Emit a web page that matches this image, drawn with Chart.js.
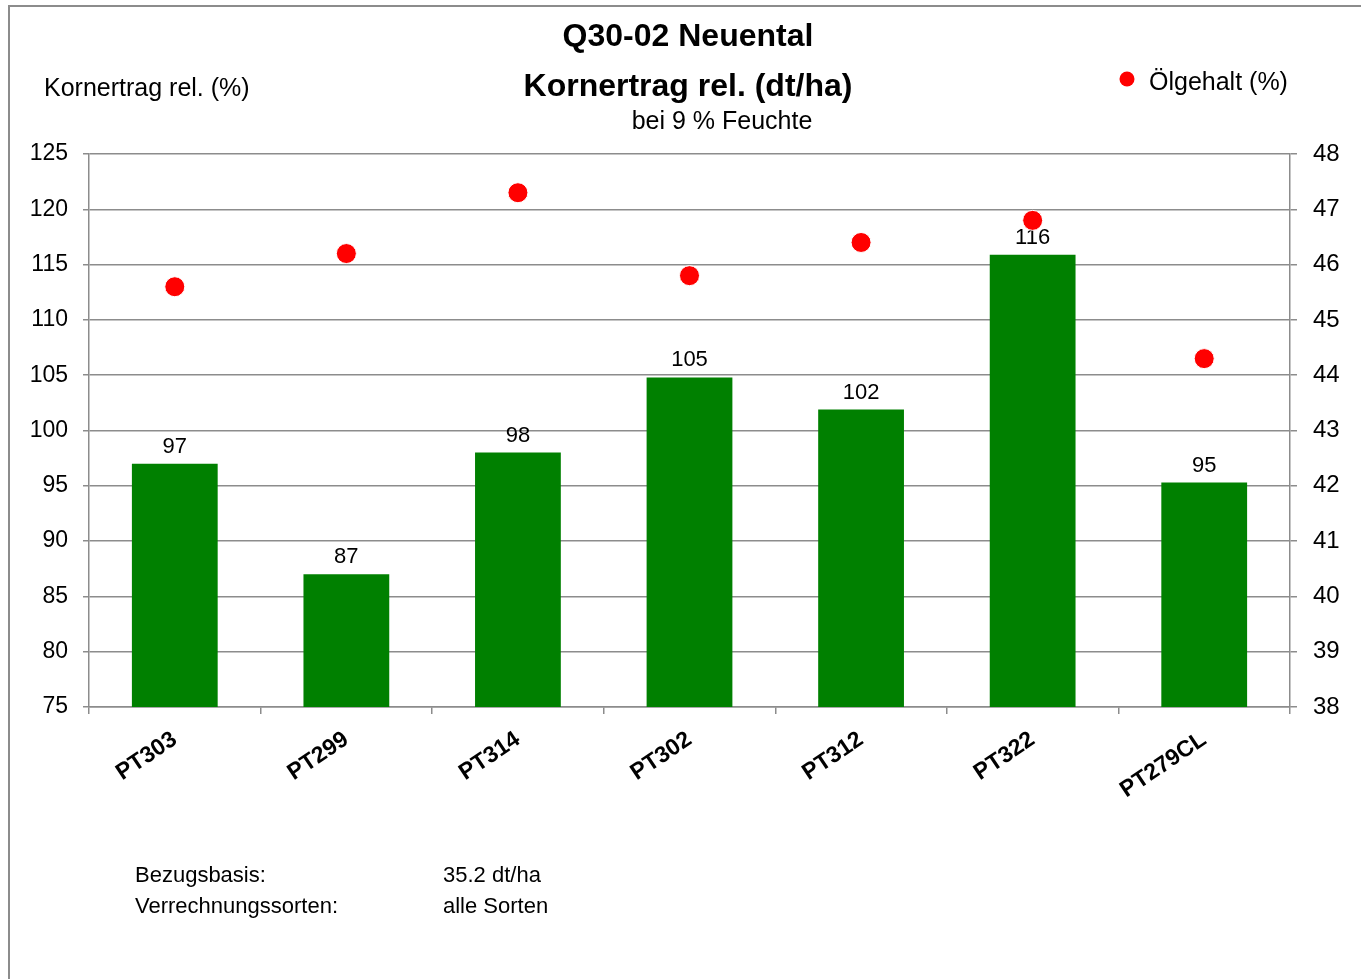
<!DOCTYPE html>
<html>
<head>
<meta charset="utf-8">
<script src="https://cdn.jsdelivr.net/npm/chart.js@4.4.0/dist/chart.umd.min.js"></script>
<style>
html, body { margin: 0; padding: 0; background: #fff; }
canvas { display: block; }
</style>
</head>
<body>
<canvas id="chart" width="1361" height="979"></canvas>
<script>
// Daten
var sorten = ['PT303', 'PT299', 'PT314', 'PT302', 'PT312', 'PT322', 'PT279CL'];
var kornertragRel = [97, 87, 98, 104.8, 101.9, 115.9, 95.3];
var oelgehalt = [45.6, 46.2, 47.3, 45.8, 46.4, 46.8, 44.3];
var titleLines = ['Q30-02 Neuental', 'Kornertrag rel. (dt/ha)', 'bei 9 % Feuchte'];
var yTitle = 'Kornertrag rel. (%)';
var legendLabel = 'Ölgehalt (%)';
var notes = [['Bezugsbasis:', '35.2 dt/ha'], ['Verrechnungssorten:', 'alle Sorten']];

var FONT = "'Liberation Sans', Arial, sans-serif";
var GRID = '#8c8c8c';
var GREEN = '#008000';
var RED = '#ff0000';

var textPlugin = {
    id: 'texts',
    beforeDraw: function(chart) {
        var ctx = chart.ctx;
        ctx.save();
        ctx.strokeStyle = '#8c8c8c';
        ctx.lineWidth = 2;
        ctx.strokeRect(9, 6, 2000, 2000);
        ctx.restore();
    },
    afterDatasetDraw: function(chart, args) {
        if (args.index !== 0) {
            return;
        }
        var ctx = chart.ctx;
        ctx.save();
        ctx.fillStyle = '#000';
        ctx.font = '22px ' + FONT;
        ctx.textAlign = 'center';
        ctx.textBaseline = 'bottom';
        args.meta.data.forEach(function(bar, i) {
            ctx.fillText(String(Math.round(kornertragRel[i])), bar.x, bar.y - 6);
        });
        ctx.restore();
    },
    afterDraw: function(chart) {
        var ctx = chart.ctx;
        ctx.save();
        ctx.fillStyle = '#000';
        ctx.textBaseline = 'middle';

        // Titel
        ctx.textAlign = 'center';
        ctx.font = 'bold 32px ' + FONT;
        ctx.fillText(titleLines[0], 688, 37);
        ctx.font = 'bold 32px ' + FONT;
        ctx.fillText(titleLines[1], 688, 87);
        ctx.font = '25px ' + FONT;
        ctx.fillText(titleLines[2], 722, 122);

        // Achsentitel links
        ctx.textAlign = 'left';
        ctx.font = '25px ' + FONT;
        ctx.fillText(yTitle, 44, 89);

        // Legende
        ctx.beginPath();
        ctx.arc(1127, 79, 7.5, 0, Math.PI * 2);
        ctx.fillStyle = RED;
        ctx.fill();
        ctx.fillStyle = '#000';
        ctx.font = '25px ' + FONT;
        ctx.fillText(legendLabel, 1149, 83);

        // Fussnoten
        ctx.font = '22px ' + FONT;
        notes.forEach(function(row, i) {
            ctx.fillText(row[0], 135, 876 + i * 31);
            ctx.fillText(row[1], 443, 876 + i * 31);
        });
        ctx.restore();
    }
};

new Chart(document.getElementById('chart'), {
    type: 'bar',
    data: {
        labels: sorten,
        datasets: [
            {
                label: 'Kornertrag rel. (%)',
                data: kornertragRel,
                backgroundColor: GREEN,
                borderWidth: 0,
                barPercentage: 0.5,
                categoryPercentage: 1,
                yAxisID: 'y',
                order: 2
            },
            {
                type: 'line',
                label: legendLabel,
                data: oelgehalt,
                showLine: false,
                pointRadius: 10,
                pointBackgroundColor: RED,
                pointBorderColor: '#fff',
                pointBorderWidth: 1,
                yAxisID: 'y1',
                order: 1
            }
        ]
    },
    options: {
        responsive: false,
        animation: false,
        layout: {
            padding: { left: 0, right: 0, top: 154, bottom: 0 }
        },
        plugins: {
            legend: { display: false },
            tooltip: { enabled: false }
        },
        scales: {
            x: {
                grid: {
                    offset: true,
                    drawOnChartArea: false,
                    tickLength: 7,
                    color: GRID,
                    lineWidth: 1.5
                },
                border: { color: GRID, width: 1.5 },
                ticks: {
                    color: '#000',
                    font: { family: FONT, size: 23, weight: 'bold' },
                    minRotation: 34,
                    maxRotation: 34,
                    padding: 12
                },
                afterFit: function(scale) { scale.height = 272; }
            },
            y: {
                position: 'left',
                min: 75,
                max: 125,
                ticks: {
                    stepSize: 5,
                    color: '#000',
                    font: { family: FONT, size: 23 },
                    padding: 15
                },
                grid: { color: GRID, lineWidth: 1.5, tickLength: 6 },
                border: { color: GRID, width: 1.5 },
                afterFit: function(scale) { scale.width = 89; }
            },
            y1: {
                position: 'right',
                min: 38,
                max: 48,
                ticks: {
                    stepSize: 1,
                    color: '#000',
                    font: { family: FONT, size: 24 },
                    padding: 16
                },
                grid: { drawOnChartArea: false, color: GRID, lineWidth: 1.5, tickLength: 7 },
                border: { color: GRID, width: 1.5 },
                afterFit: function(scale) { scale.width = 71; }
            }
        }
    },
    plugins: [textPlugin]
});
</script>
</body>
</html>
